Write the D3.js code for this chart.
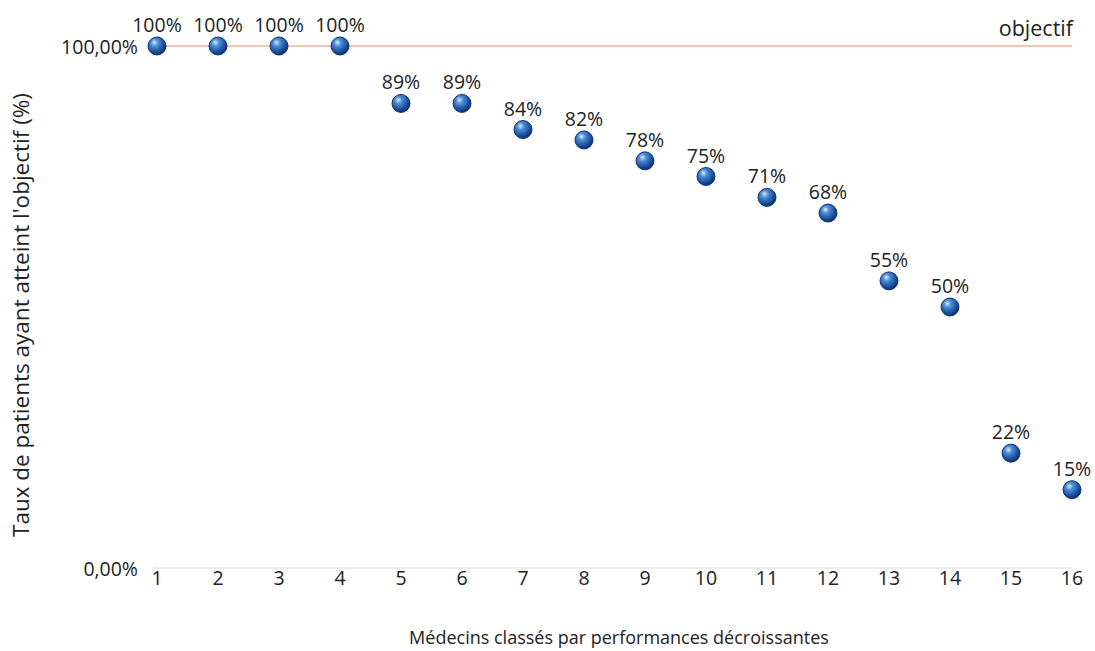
<!DOCTYPE html>
<html>
<head>
<meta charset="utf-8">
<script src="https://cdn.jsdelivr.net/npm/d3@7"></script>
<style>
  body { margin: 0; background: #fff; }
  text { font-family: "Open Sans", "Noto Sans", sans-serif; fill: #222; }
</style>
</head>
<body>
<div id="chart"></div>
<script>
// data
var medecins = [1, 2, 3, 4, 5, 6, 7, 8, 9, 10, 11, 12, 13, 14, 15, 16];
var taux = [100, 100, 100, 100, 89, 89, 84, 82, 78, 75, 71, 68, 55, 50, 22, 15];
var yTicks = [0, 100];
var objectif = 100;

var width = 1095,
    height = 651;

var x = d3.scaleLinear()
    .domain([1, 16])
    .range([157, 1072]);

var y = d3.scaleLinear()
    .domain([0, 100])
    .range([568, 46]);

var svg = d3.select("#chart").append("svg")
    .attr("width", width)
    .attr("height", height);

// sphere look for the markers
var grad = svg.append("defs").append("radialGradient")
    .attr("id", "ball")
    .attr("cx", "40%").attr("cy", "35%").attr("r", "65%")
    .attr("fx", "35%").attr("fy", "30%");
grad.append("stop").attr("offset", "0%").attr("stop-color", "#d8ecff");
grad.append("stop").attr("offset", "30%").attr("stop-color", "#4f8fd6");
grad.append("stop").attr("offset", "75%").attr("stop-color", "#1a4f9e");
grad.append("stop").attr("offset", "100%").attr("stop-color", "#0c2f6a");

// baseline
svg.append("line")
    .attr("x1", x(1) - 4).attr("x2", x(16))
    .attr("y1", y(0)).attr("y2", y(0))
    .attr("stroke", "#e6e6e6")
    .attr("stroke-width", 1.5);

// objectif line
svg.append("line")
    .attr("x1", x(1)).attr("x2", x(16))
    .attr("y1", y(objectif)).attr("y2", y(objectif))
    .attr("stroke", "#f0c9b4")
    .attr("stroke-width", 2);

svg.append("text")
    .attr("x", x(16) + 1)
    .attr("y", y(objectif) - 10)
    .attr("text-anchor", "end")
    .style("font-size", "21.5px")
    .text("objectif");

// y axis labels
svg.selectAll(".ytick")
    .data(yTicks)
  .enter().append("text")
    .attr("class", "ytick")
    .attr("x", 138)
    .attr("y", function(d) { return y(d) + 8; })
    .attr("text-anchor", "end")
    .style("font-size", "19.5px")
    .text(function(d) { return d.toFixed(2).replace(".", ",") + "%"; });

// x axis labels
svg.selectAll(".xtick")
    .data(medecins)
  .enter().append("text")
    .attr("class", "xtick")
    .attr("x", function(d) { return x(d); })
    .attr("y", 585)
    .attr("text-anchor", "middle")
    .style("font-size", "19.5px")
    .text(function(d) { return d; });

// axis titles
svg.append("text")
    .attr("x", 619)
    .attr("y", 644)
    .attr("text-anchor", "middle")
    .style("font-size", "18px")
    .text("Médecins classés par performances décroissantes");

svg.append("text")
    .attr("transform", "translate(29,315) rotate(-90)")
    .attr("text-anchor", "middle")
    .style("font-size", "22.5px")
    .text("Taux de patients ayant atteint l'objectif (%)");

// points
svg.selectAll(".pt")
    .data(medecins)
  .enter().append("circle")
    .attr("class", "pt")
    .attr("cx", function(d) { return x(d); })
    .attr("cy", function(d, i) { return y(taux[i]); })
    .attr("r", 9)
    .attr("fill", "url(#ball)")
    .attr("stroke", "#0f3574")
    .attr("stroke-width", 1);

// value labels
svg.selectAll(".lbl")
    .data(medecins)
  .enter().append("text")
    .attr("class", "lbl")
    .attr("x", function(d) { return x(d); })
    .attr("y", function(d, i) { return y(taux[i]) - 14; })
    .attr("text-anchor", "middle")
    .style("font-size", "19.5px")
    .text(function(d, i) { return taux[i] + "%"; });
</script>
</body>
</html>
